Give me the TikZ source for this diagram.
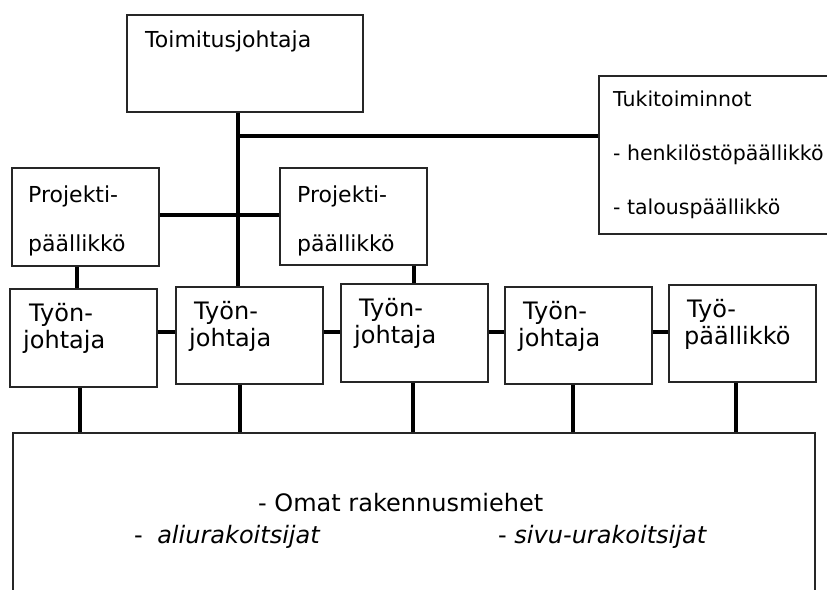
\documentclass[tikz,border=0pt]{standalone}
\usepackage{fontspec}
\setmainfont{DejaVu Sans}
\usetikzlibrary{calc}
\begin{document}
\begin{tikzpicture}[x=1pt,y=-1pt,
  box/.style={draw=black!85, line width=1.8pt, inner sep=0pt, anchor=north west},
  link/.style={line width=4pt},
  drop/.style={line width=3.5pt},
  lbl/.style={anchor=base west, inner sep=0pt},
  big/.style={font=\fontsize{22}{26}\selectfont},
  mid/.style={font=\fontsize{20.5}{24}\selectfont},
  row/.style={font=\fontsize{24}{28}\selectfont},
]
\useasboundingbox (0,0) rectangle (827,589);
\clip (0,0) rectangle (827,589);

% boxes
\node[box, minimum width=236pt, minimum height=97pt] (ceo) at (126,14) {};
\node[box, minimum width=250pt, minimum height=158pt] (tuki) at (598,75) {};
\node[box, minimum width=147pt, minimum height=98pt] (pp1) at (11,167) {};
\node[box, minimum width=147pt, minimum height=97pt] (pp2) at (279,167) {};
\node[box, minimum width=147pt, minimum height=98pt] (tj1) at (9,288) {};
\node[box, minimum width=147pt, minimum height=97pt] (tj2) at (175,286) {};
\node[box, minimum width=147pt, minimum height=98pt] (tj3) at (340,283) {};
\node[box, minimum width=147pt, minimum height=97pt] (tj4) at (504,286) {};
\node[box, minimum width=147pt, minimum height=97pt] (tj5) at (668,284) {};
\node[box, minimum width=802pt, minimum height=220pt] (crew) at (12,432) {};

% guide coordinates for the connector lines
\coordinate (spine) at (238,0);
\coordinate (tier) at (0,136);
\coordinate (pplink) at (0,215);
\coordinate (c1) at (77,0);
\coordinate (rowlink) at (0,332);
\coordinate (d1) at (80,0);
\coordinate (d2) at (240,0);
\coordinate (d3) at (413,0);
\coordinate (d4) at (573,0);
\coordinate (d5) at (736,0);

% connectors
\draw[link] (ceo.south -| spine) -- (tj2.north -| spine);
\draw[link] (spine |- tier) -- (tuki.west |- tier);
\draw[link] (pp1.east |- pplink) -- (pp2.west |- pplink);
\draw[link] (pp1.south -| c1) -- (tj1.north -| c1);
\draw[link] (pp2.south -| tj3.north) -- (tj3.north);
\draw[link] (tj1.east |- rowlink) -- (tj2.west |- rowlink);
\draw[link] (tj2.east |- rowlink) -- (tj3.west |- rowlink);
\draw[link] (tj3.east |- rowlink) -- (tj4.west |- rowlink);
\draw[link] (tj4.east |- rowlink) -- (tj5.west |- rowlink);
\draw[drop] (tj1.south -| d1) -- (crew.north -| d1);
\draw[drop] (tj2.south -| d2) -- (crew.north -| d2);
\draw[drop] (tj3.south -| d3) -- (crew.north -| d3);
\draw[drop] (tj4.south -| d4) -- (crew.north -| d4);
\draw[drop] (tj5.south -| d5) -- (crew.north -| d5);

% texts
\node[lbl, big] (ceot) at (145,47) {Toimitusjohtaja};

\node[lbl, mid] (tukia) at (613,106) {Tukitoiminnot};
\node[lbl, mid] (tukib) at (613,160) {- henkilöstöpäällikkö};
\node[lbl, mid] (tukic) at (613,214) {- talouspäällikkö};

\node[lbl, big] (pp1a) at (28,202) {Projekti-};
\node[lbl, big] (pp1b) at (28,251) {päällikkö};
\node[lbl, big] (pp2a) at (297,202) {Projekti-};
\node[lbl, big] (pp2b) at (297,251) {päällikkö};

\node[lbl, row] (tj1a) at (29,321) {Työn-};
\node[lbl, row] (tj1b) at (23,348) {johtaja};
\node[lbl, row] (tj2a) at (194,319) {Työn-};
\node[lbl, row] (tj2b) at (189,346) {johtaja};
\node[lbl, row] (tj3a) at (359,316) {Työn-};
\node[lbl, row] (tj3b) at (354,343) {johtaja};
\node[lbl, row] (tj4a) at (523,319) {Työn-};
\node[lbl, row] (tj4b) at (518,346) {johtaja};
\node[lbl, row] (tj5a) at (687,317) {Työ-};
\node[lbl, row] (tj5b) at (684,344) {päällikkö};

\node[lbl, font=\fontsize{24}{28}\selectfont] (crewa) at (258,511) {- Omat rakennusmiehet};
\node[lbl, font=\fontsize{24}{28}\selectfont] (crewb) at (134,543) {-\hspace{0.6em}\textit{aliurakoitsijat}};
\node[lbl, font=\fontsize{24}{28}\selectfont] (crewc) at (498,543) {- \textit{sivu-urakoitsijat}};
\end{tikzpicture}
\end{document}
